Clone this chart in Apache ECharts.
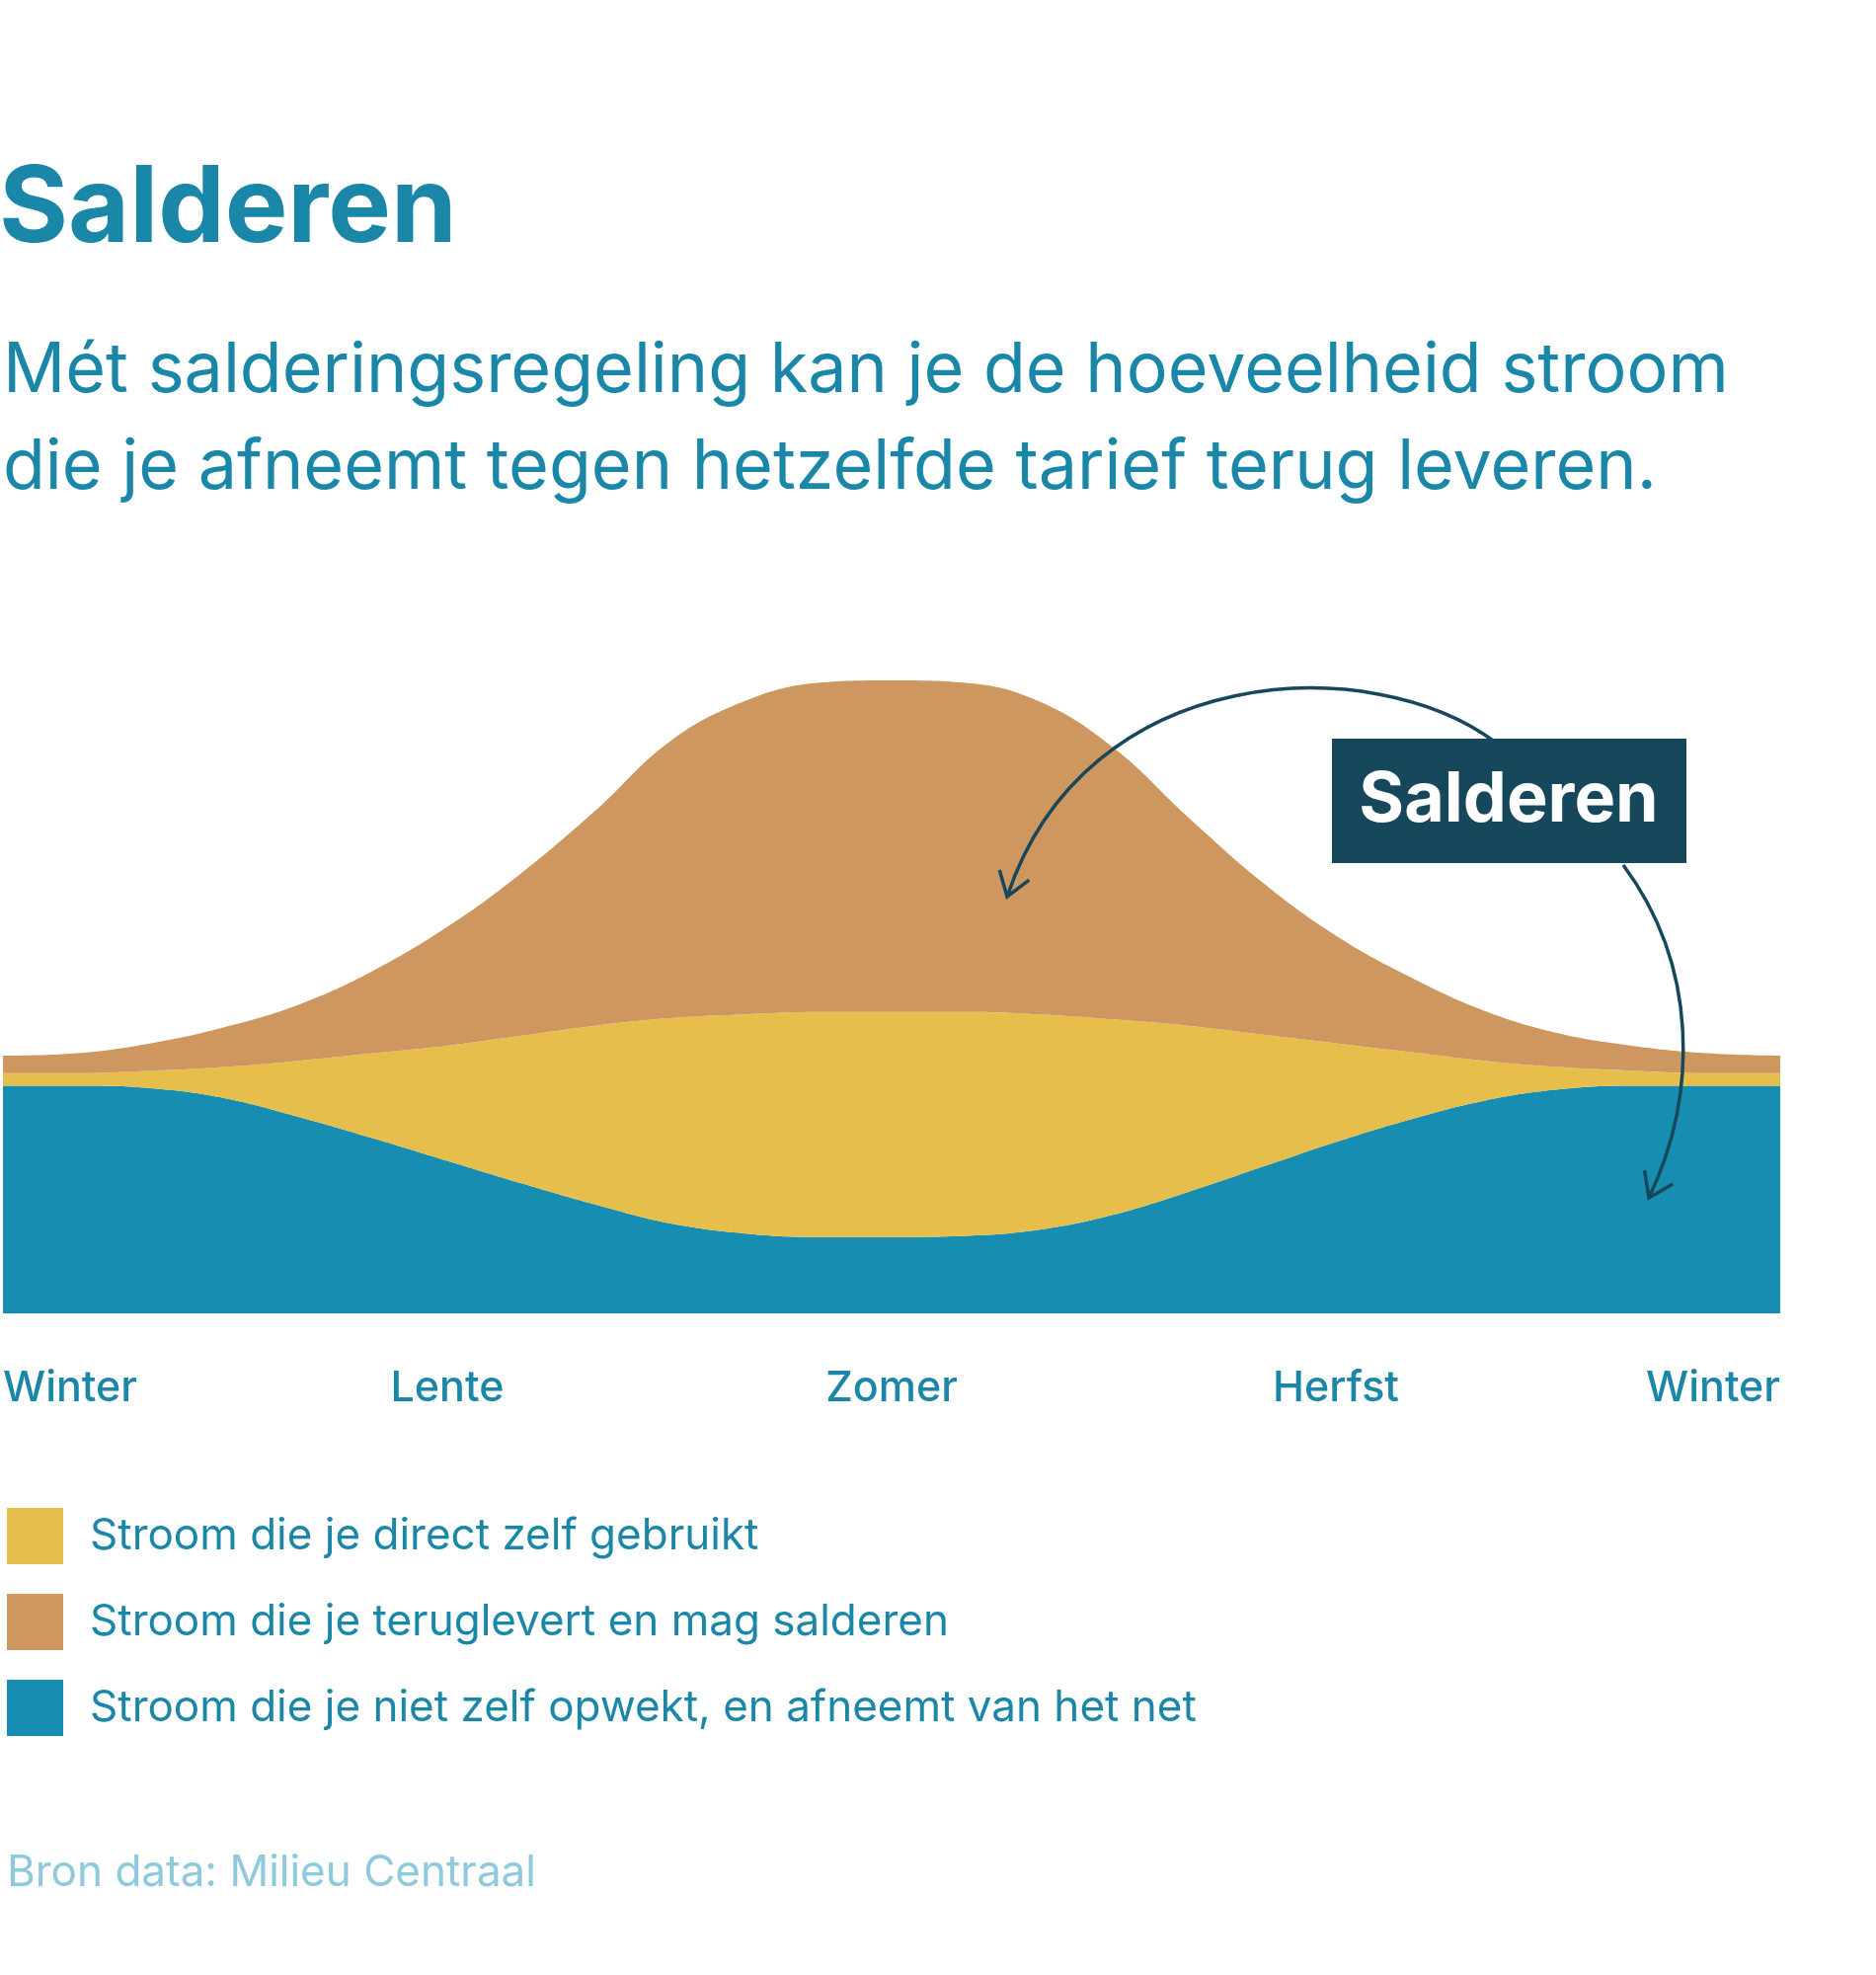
<!DOCTYPE html>
<html><head><meta charset="utf-8">
<script src="https://cdn.jsdelivr.net/npm/echarts@6/dist/echarts.min.js"></script>
<style>html,body{margin:0;padding:0;background:#fff}#c{width:1900px;height:2000px}</style>
</head><body><div id="c"></div>
<script>
const categories = ['Winter','','','','','','Lente','','','','','','Zomer','','','','','','Herfst','','','','','','Winter'];
const blueNet = [182,182,180,172,157,140,122,104,87,72,64,61,61,62,67,79,97,117,137,155,170,179,182,182,182];
const yellowSelf = [10,10,14,25,45,68,92,118,143,164,175,180,180,179,172,156,133,106,79,54,32,18,12,10,10];
const orangeSald = [14,16,22,32,45,66,95,130,172,221,250,263,265,263,250,217,167,122,86,60,40,27,20,16,14];
const seriesNames = ['Stroom die je direct zelf gebruikt','Stroom die je teruglevert en mag salderen','Stroom die je niet zelf opwekt, en afneemt van het net'];
const colors = {yellow:'#e6be4b', orange:'#cf9760', blue:'#168db1'};
const F = 'Inter, "Noto Sans", sans-serif';
const chart = echarts.init(document.getElementById('c'));
function arrowHead(ex,ey,cx,cy){
  const dx=ex-cx, dy=ey-cy, L=Math.hypot(dx,dy), ux=dx/L, uy=dy/L, s=28, a=0.6;
  const p=(ang)=>[ex-s*(ux*Math.cos(ang)-uy*Math.sin(ang)), ey-s*(uy*Math.cos(ang)+ux*Math.sin(ang))];
  return [p(a),[ex,ey],p(-a)];
}
const arrowStyle={stroke:'#17475a',lineWidth:3.5,fill:null};
const a1={x1:1515,y1:752,cpx1:1390,cpy1:658,cpx2:1100,cpy2:668,x2:1020,y2:908};
const a2={x1:1644,y1:876,cpx1:1720,cpy1:978,cpx2:1720,cpy2:1108,x2:1670,y2:1213};
const common={type:'line',stack:'s',smooth:0.4,symbol:'none',lineStyle:{width:0}};
chart.setOption({
  animation:false,
  title:[
    {text:'Salderen',left:-6,top:154,textStyle:{fontFamily:F,fontSize:107,fontWeight:'bold',color:'#1a87a8'}},
    {text:'Mét salderingsregeling kan je de hoeveelheid stroom\ndie je afneemt tegen hetzelfde tarief terug leveren.',left:-2,top:322,
     textStyle:{fontFamily:F,fontSize:70,fontWeight:'normal',color:'#1a87a8',lineHeight:98}},
    {text:'Bron data: Milieu Centraal',left:2,top:1870,textStyle:{fontFamily:F,fontSize:44,fontWeight:'normal',color:'#8ec9dd'}}
  ],
  grid:{left:0,top:570,width:1803,height:760},
  xAxis:{type:'category',data:categories,boundaryGap:false,
    axisLine:{show:false},axisTick:{show:false},
    axisLabel:{interval:0,margin:55,alignMinLabel:'left',alignMaxLabel:'right',fontFamily:F,fontSize:43,fontWeight:500,color:'#1a87a8'}},
  yAxis:{type:'value',min:0,max:600,show:false,splitLine:{show:false}},
  legend:{orient:'vertical',left:2,top:1522,itemWidth:57,itemHeight:57,itemGap:30,icon:'rect',
    data:seriesNames,textStyle:{fontFamily:F,fontSize:44,color:'#1a87a8',padding:[0,0,0,22]}},
  series:[
    Object.assign({name:seriesNames[2],data:blueNet,areaStyle:{color:colors.blue,opacity:1},itemStyle:{color:colors.blue}},common),
    Object.assign({name:seriesNames[0],data:yellowSelf,areaStyle:{color:colors.yellow,opacity:1},itemStyle:{color:colors.yellow}},common),
    Object.assign({name:seriesNames[1],data:orangeSald,areaStyle:{color:colors.orange,opacity:1},itemStyle:{color:colors.orange}},common)
  ],
  graphic:[
    {type:'bezierCurve',shape:a1,style:arrowStyle,z:100},
    {type:'polyline',shape:{points:arrowHead(a1.x2,a1.y2,a1.cpx2,a1.cpy2)},style:arrowStyle,z:100},
    {type:'bezierCurve',shape:a2,style:arrowStyle,z:100},
    {type:'polyline',shape:{points:arrowHead(a2.x2,a2.y2,a2.cpx2,a2.cpy2)},style:arrowStyle,z:100},
    {type:'rect',shape:{x:1349,y:748,width:359,height:126},style:{fill:'#17475a'},z:101},
    {type:'text',x:1528,y:811,style:{text:'Salderen',fill:'#fff',font:'bold 70px '+F,textAlign:'center',textVerticalAlign:'middle'},z:102}
  ]
});
</script></body></html>
